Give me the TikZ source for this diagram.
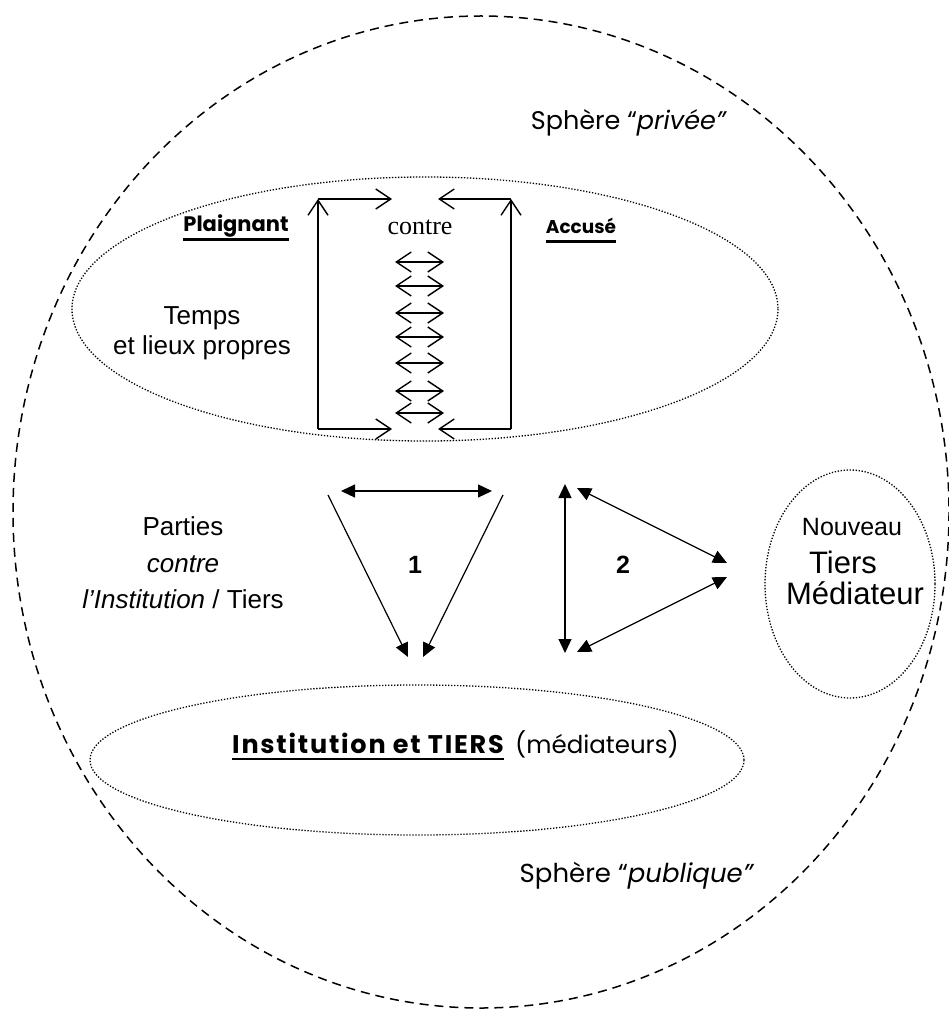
\documentclass[tikz,border=0pt]{standalone}
\usepackage{fontspec}
\setmainfont{Liberation Sans}
\newfontfamily\comic{Poppins}
\newfontfamily\timesf{Liberation Serif}
\usetikzlibrary{arrows.meta}
\newcommand{\fs}[2]{\fontsize{#1}{#2}\selectfont}
\tikzset{
  bigsphere/.style={line width=1.5pt, dash pattern=on 9pt off 6pt},
  dotline/.style={line width=1.3pt, dash pattern=on 1.3pt off 1.7pt},
  openarrow/.style={line width=1.4pt, -{Straight Barb[length=15pt,width=20pt]}},
  opendbl/.style={line width=1.4pt, {Straight Barb[length=15pt,width=20pt]}-{Straight Barb[length=15pt,width=20pt]}},
  fillarrow/.style={line width=1.2pt, -{Triangle[length=14pt,width=13pt]}},
  filldbl/.style={line width=1.2pt, {Triangle[length=14pt,width=13pt]}-{Triangle[length=14pt,width=13pt]}},
  lbl/.style={inner sep=0pt, align=center},
  uline/.style={line width=2.6pt},
}
\begin{document}
\begin{tikzpicture}[x=1pt,y=-1pt]
\useasboundingbox (0,0) rectangle (948,1011);
% spheres
\draw[bigsphere] (481,512) ellipse [x radius=468, y radius=496];
\draw[dotline] (425,309) ellipse [x radius=353, y radius=132];
\draw[dotline] (417,760) ellipse [x radius=327, y radius=75];
\draw[dotline] (850,584) ellipse [x radius=85, y radius=114];

% texts
\node[lbl, font=\comic\fs{25.5}{30}] (prive) at (629,123) {Sphère “\textit{privée”}};
\node[lbl, font=\comic\fs{26}{30}] (publ) at (637,876) {Sphère “\textit{publique”}};
\node[lbl, font=\comic\fs{21}{25}\bfseries] (plai) at (236,226) {Plaignant};
\node[lbl, font=\comic\fs{18.5}{25}\bfseries] (accu) at (581,226) {Accusé};
\draw[uline] ([yshift=-8pt]plai.base west) -- ([yshift=-8pt]plai.base east);
\draw[uline] ([yshift=-8pt]accu.base west) -- ([yshift=-8pt]accu.base east);
\node[lbl, font=\timesf\fs{26}{30}] (contre) at (420,227) {contre};
\node[lbl, font=\fs{26}{30}] (temps) at (202,333) {Temps\\et lieux propres};
\node[lbl, font=\fs{26}{36.5}] (parties) at (183,563) {Parties\\\textit{contre}\\\textit{l’Institution} / Tiers};
\node[lbl, font=\fs{25}{30}\bfseries] (un) at (415,565) {1};
\node[lbl, font=\fs{25}{30}\bfseries] (deux) at (623,565) {2};
\node[lbl, font=\fs{25}{30}] (nouv) at (852,527) {Nouveau};
\node[lbl, font=\fs{31}{36}] (tiers) at (843,562) {Tiers};
\node[lbl, font=\fs{31}{36}] (medi) at (855,593) {Médiateur};
\node[lbl, anchor=base west, font=\comic\fs{25.5}{30}\bfseries\addfontfeatures{LetterSpace=7}] (inst) at (232,753) {Institution et TIERS};
\node[lbl, anchor=base west, font=\comic\fs{24.5}{30}] (medp) at (515,753) {(médiateurs)};
\draw[uline] ([yshift=-6pt]inst.base west) -- ([yshift=-6pt]inst.base east);

% left bracket of arrows
\coordinate (LT) at (318,199);
\coordinate (LB) at (318,429);
\coordinate (LTe) at (392,199);
\coordinate (LBe) at (392,429);
\coordinate (RT) at (511,199);
\coordinate (RB) at (511,429);
\coordinate (RTe) at (438,199);
\coordinate (RBe) at (438,429);
\draw[openarrow] (LB) -- (LT);
\draw[openarrow] (LT) -- (LTe);
\draw[openarrow] (LB) -- (LBe);
\draw[openarrow] (RB) -- (RT);
\draw[openarrow] (RT) -- (RTe);
\draw[openarrow] (RB) -- (RBe);

% middle double arrows
\foreach \i/\yy in {1/262,2/286,3/313,4/337,5/363,6/391,7/413}{
  \coordinate (mA\i) at (395,\yy);
  \coordinate (mB\i) at (444,\yy);
  \draw[opendbl] (mA\i) -- (mB\i);
}

% triangle 1
\coordinate (t1a) at (341,491);
\coordinate (t1b) at (492,491);
\coordinate (t1c) at (328,495);
\coordinate (t1d) at (408,657);
\coordinate (t1e) at (503,495);
\coordinate (t1f) at (423,657);
\draw[filldbl] (t1a) -- (t1b);
\draw[fillarrow] (t1c) -- (t1d);
\draw[fillarrow] (t1e) -- (t1f);

% triangle 2
\coordinate (t2a) at (565,484);
\coordinate (t2b) at (565,653);
\coordinate (t2c) at (577,488);
\coordinate (t2d) at (727,563);
\coordinate (t2e) at (727,577);
\coordinate (t2f) at (577,652);
\draw[filldbl] (t2a) -- (t2b);
\draw[filldbl] (t2c) -- (t2d);
\draw[filldbl] (t2e) -- (t2f);
\end{tikzpicture}
\end{document}
